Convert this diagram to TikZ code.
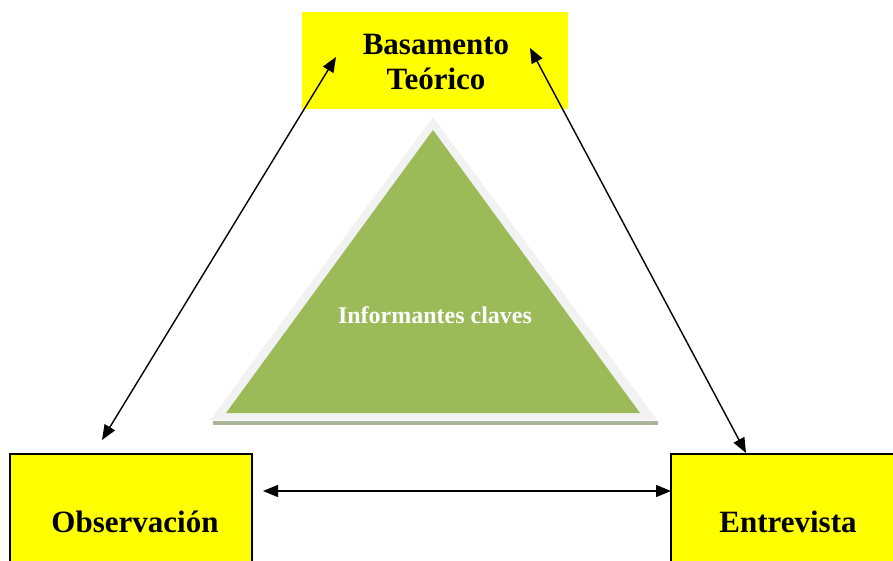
\documentclass[tikz,border=0pt]{standalone}
\usepackage{fontspec}
\setmainfont{Liberation Serif}
\usetikzlibrary{arrows.meta}
\definecolor{boxyellow}{RGB}{255,255,0}
\definecolor{trigreen}{RGB}{155,187,89}
\definecolor{tririm}{RGB}{242,242,242}
\definecolor{trishadow}{RGB}{170,180,150}
\tikzset{
  boxlabel/.style={font=\bfseries\fontsize{31}{35}\selectfont, text=black},
  link/.style={line width=1.4pt, {Triangle[length=15pt,width=12pt]}-{Triangle[length=15pt,width=12pt]}},
}
\begin{document}
\begin{tikzpicture}[x=1pt,y=-1pt]
\useasboundingbox (0,0) rectangle (893,560);
\clip (0,0) rectangle (893,560);
% top box
\fill[boxyellow] (302,12) rectangle (568,109);
\node[boxlabel, align=center] (basamento) at (436,62) {Basamento\\Teórico};
% bottom boxes
\draw[fill=boxyellow, line width=1.3pt] (10,454) rectangle (252,575);
\node[boxlabel, anchor=base] (observacion) at (135,532) {Observación};
\draw[fill=boxyellow, line width=1.3pt] (671,454) rectangle (910,575);
\node[boxlabel, anchor=base] (entrevista) at (788,532) {Entrevista};
% triangle
\fill[trishadow] (213,421) rectangle (658,425);
\fill[tririm] (433,117) -- (657,420) -- (210,420) -- cycle;
\fill[trigreen] (433,130) -- (640,413) -- (226,413) -- cycle;
\node[font=\bfseries\fontsize{24}{28}\selectfont, text=white, anchor=base] (informantes) at (435,323) {Informantes claves};
% connector endpoints
\coordinate (b1) at (336,57);
\coordinate (o1) at (102,440);
\coordinate (b2) at (530,48);
\coordinate (e1) at (746,453);
\coordinate (o2) at (263,491);
\coordinate (e2) at (671,491);
\draw[link] (o1) -- (b1);
\draw[link] (b2) -- (e1);
\draw[link] (o2) -- (e2);
\end{tikzpicture}
\end{document}
